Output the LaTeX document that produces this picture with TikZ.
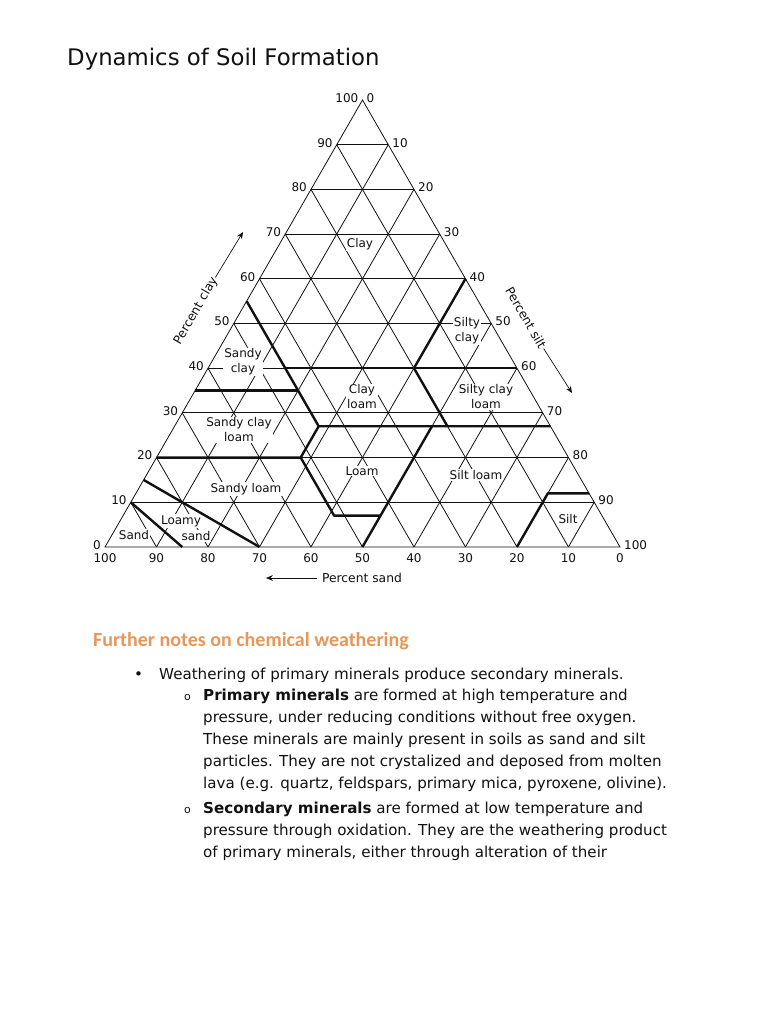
\documentclass[tikz,border=0pt]{standalone}
\usepackage{fontspec}
\setmainfont{DejaVu Sans}
\newfontfamily\headfont{Carlito}
\usetikzlibrary{arrows.meta}
\definecolor{ink}{HTML}{111111}
\definecolor{accent}{HTML}{E8965A}

\begin{document}
\begin{tikzpicture}[x=1pt, y=-1pt,
  text=ink,
  grid/.style={draw=ink, line width=.8pt},
  border/.style={draw=ink, line width=2.4pt, line join=round},
  tick/.style={font=\fontsize{12}{13}\selectfont, inner sep=1pt},
  zone/.style={font=\fontsize{12}{15}\selectfont, fill=white, inner sep=1pt, align=center},
  axis/.style={font=\fontsize{12.3}{14}\selectfont, inner sep=1pt},
  arrow/.style={-{Stealth[length=2.4mm, width=2mm]}, draw=ink, line width=.7pt},
  body/.style={font=\fontsize{15.1}{18}\selectfont, anchor=base west, inner sep=0pt}
]
  \fill[white] (0,0) rectangle (768,1024);
  \useasboundingbox (0,0) rectangle (768,1024);
  \node[anchor=base west, inner sep=0pt, font=\fontsize{22.8}{27}\selectfont] (title) at (67,66) {Dynamics of Soil Formation};

  % weights in tens of percent
  \coordinate (S) at (105,547);
  \coordinate (T) at (620,547);
  \coordinate (C) at (362.5,100);
  \draw[grid] (S) -- (T) -- (C) -- cycle;
  \foreach \i in {1,...,9}{
    \pgfmathtruncatemacro\j{10-\i}
    \draw[grid] (barycentric cs:S=\j,C=\i) -- (barycentric cs:T=\j,C=\i);
    \draw[grid] (barycentric cs:S=\i,T=\j) -- (barycentric cs:S=\i,C=\j);
    \draw[grid] (barycentric cs:T=\i,S=\j) -- (barycentric cs:T=\i,C=\j);
  }
  \foreach \i in {0,...,10}{
    \pgfmathtruncatemacro\j{10-\i}
    \pgfmathtruncatemacro\v{10*\i}
    \node[tick, anchor=east] (clay\v) at ([xshift=-3pt, yshift=2pt]barycentric cs:S=\j,C=\i) {\v};
    \node[tick, anchor=west] (silt\v) at ([xshift=3pt, yshift=2pt]barycentric cs:T=\i,C=\j) {\v};
    \node[tick, anchor=north] (sand\v) at ([yshift=-5pt]barycentric cs:S=\i,T=\j) {\v};
  }

  \node[zone] (clay) at (360,244) {Clay};
  \node[zone] (siltyclay) at (467,331) {Silty\\clay};
  \node[zone] (sandyclay) at (243,362) {Sandy\\clay};
  \node[zone] (clayloam) at (362,397) {Clay\\loam};
  \node[zone] (siltyclayloam) at (486,397) {Silty clay\\loam};
  \node[zone] (sandyclayloam) at (239,430) {Sandy clay\\loam};
  \node[zone] (loam) at (362,471) {Loam};
  \node[zone] (siltloam) at (476,475) {Silt loam};
  \node[zone] (sandyloam) at (246,489) {Sandy loam};
  \node[zone] (loamy) at (181,521) {Loamy};
  \node[zone] (loamysand) at (196,536) {sand};
  \node[zone] (sand) at (134,535) {Sand};
  \node[zone] (silt) at (568,519) {Silt};

  \draw[border] (barycentric cs:S=9,C=1) -- (barycentric cs:S=8.5,T=1.5);
  \draw[border] (barycentric cs:S=8.5,C=1.5) -- (barycentric cs:S=7,T=3);
  \draw[border] (barycentric cs:S=8,C=2) -- (barycentric cs:S=5.2,T=2.8,C=2) -- (barycentric cs:S=4.5,T=2.8,C=2.7);
  \draw[border] (barycentric cs:S=5.2,T=2.8,C=2) -- (barycentric cs:S=5.2,T=4.1,C=.7) -- (barycentric cs:S=4.3,T=5,C=.7);
  \draw[border] (barycentric cs:S=6.5,C=3.5) -- (barycentric cs:S=4.5,T=2,C=3.5);
  \draw[border] (barycentric cs:S=4.5,C=5.5) -- (barycentric cs:S=4.5,T=2.8,C=2.7) -- (barycentric cs:T=7.3,C=2.7);
  \draw[border] (barycentric cs:S=4.5,T=1.5,C=4) -- (barycentric cs:T=6,C=4);
  \draw[border] (barycentric cs:T=4,C=6) -- (barycentric cs:S=2,T=4,C=4) -- (barycentric cs:S=2,T=5.3,C=2.7);
  \draw[border] (barycentric cs:S=2.3,T=5,C=2.7) -- (barycentric cs:S=5,T=5);
  \draw[border] (barycentric cs:S=2,T=8) -- (barycentric cs:S=.8,T=8,C=1.2) -- (barycentric cs:T=8.8,C=1.2);

  \node[axis, rotate=60] (clayaxis) at (196,311) {Percent clay};
  \coordinate (clayhead) at (243,232);
  \draw[arrow] (clayaxis.east) -- (clayhead);
  \node[axis, rotate=-60] (siltaxis) at (526,318) {Percent silt};
  \coordinate (silthead) at (572,393);
  \draw[arrow] (siltaxis.east) -- (silthead);
  \node[axis] (sandaxis) at (362,578) {Percent sand};
  \coordinate (sandhead) at (266,578);
  \draw[arrow, shorten <=4pt] (sandaxis.west) -- (sandhead);

  \node[anchor=base west, inner sep=0pt, font=\headfont\bfseries\fontsize{20}{24}\selectfont, text=accent] (notes) at (93,646) {Further notes on chemical weathering};
  \node[body] (dot1) at (134,679.5) {\textbullet};
  \node[body] (line1) at (159,679.5) {Weathering of primary minerals produce secondary minerals.};
  \node[body, font=\fontsize{11}{12}\selectfont] (dot2) at (184,700.5) {o};
  \node[body] (line2) at (203,700.5) {\textbf{Primary minerals} are formed at high temperature and};
  \node[body] (line3) at (203,722.5) {pressure, under reducing conditions without free oxygen.};
  \node[body] (line4) at (203,744.5) {These minerals are mainly present in soils as sand and silt};
  \node[body] (line5) at (203,766.5) {particles. They are not crystalized and deposed from molten};
  \node[body] (line6) at (203,788.5) {lava (e.g. quartz, feldspars, primary mica, pyroxene, olivine).};
  \node[body, font=\fontsize{11}{12}\selectfont] (dot3) at (184,813.5) {o};
  \node[body] (line7) at (203,813.5) {\textbf{Secondary minerals} are formed at low temperature and};
  \node[body] (line8) at (203,835.5) {pressure through oxidation. They are the weathering product};
  \node[body] (line9) at (203,857.5) {of primary minerals, either through alteration of their};
\end{tikzpicture}
\end{document}
